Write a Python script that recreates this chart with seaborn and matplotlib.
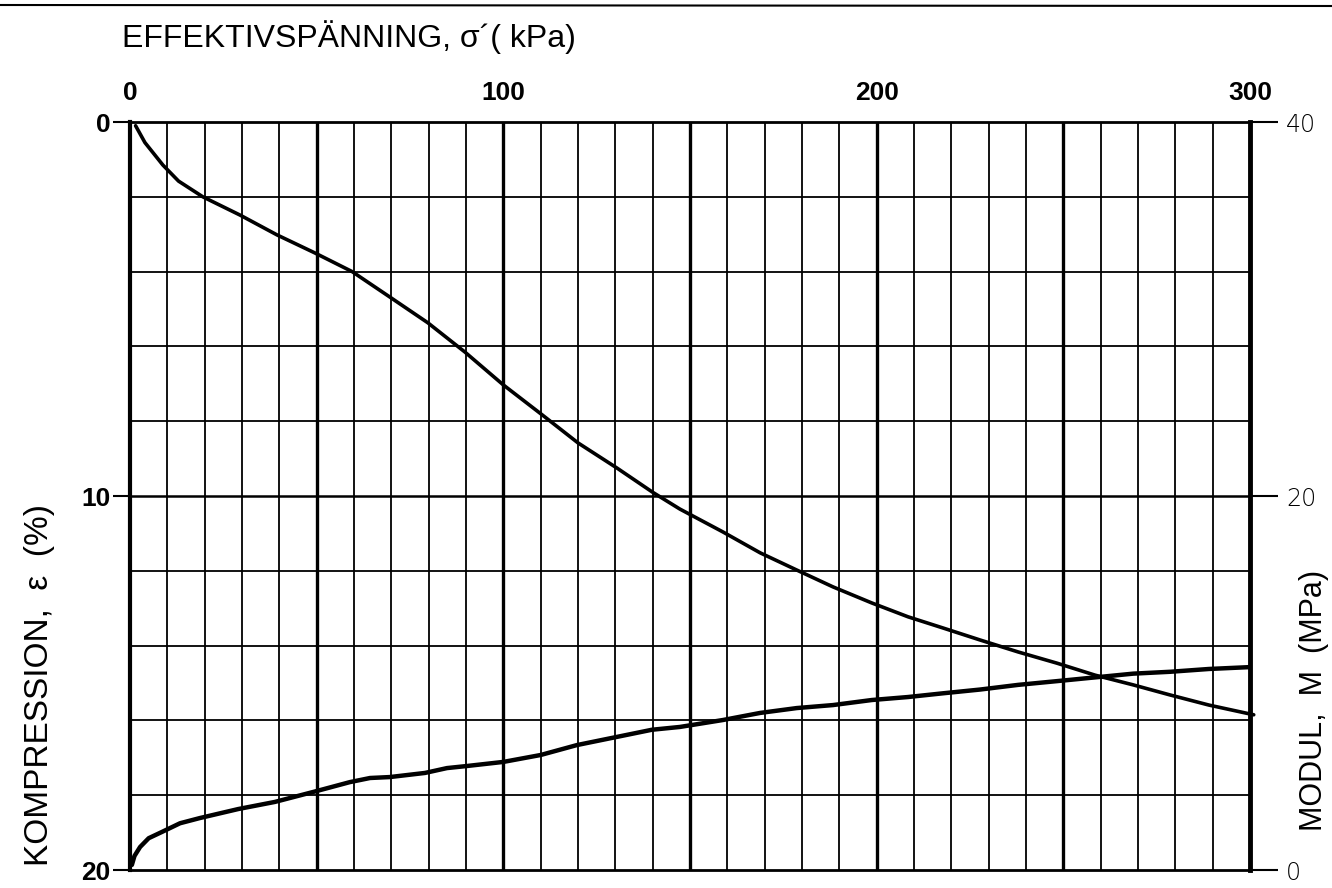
import matplotlib
matplotlib.use("Agg")
import matplotlib.pyplot as plt
from matplotlib.lines import Line2D
import seaborn as sns
import pandas as pd

# ---- data ----
stress_comp = [1.5, 4, 8.8, 13, 19.5, 29.5, 39.4, 49.5, 59.5, 69.6, 79.8, 89.7, 100, 110.4,
               120, 130.4, 140, 147.3, 158.8, 168.8, 178.6, 188.3, 198.7, 208.4, 217.8,
               227.7, 237.9, 248.3, 258.5, 268.7, 278.6, 289, 301]
compression = [0.1, 0.55, 1.15, 1.58, 2.0, 2.49, 3.02, 3.5, 4.0, 4.68, 5.37, 6.15, 7.03, 7.83,
               8.58, 9.25, 9.9, 10.35, 10.96, 11.52, 11.98, 12.43, 12.86, 13.23, 13.53,
               13.85, 14.17, 14.47, 14.79, 15.05, 15.32, 15.59, 15.85]

stress_mod = [0.5, 1.2, 2.7, 5, 8.5, 13.4, 18.75, 29, 38.8, 49, 58.9, 64.3, 69.6, 79, 84.9,
              90.2, 100, 110, 119.7, 130, 139.8, 147.3, 158.8, 168.8, 178.6, 188.3, 198.7,
              208.4, 217.8, 227.7, 237.9, 248.3, 258.5, 268.7, 278.6, 289, 300]
modulus = [0.27, 0.75, 1.23, 1.7, 2.03, 2.5, 2.78, 3.26, 3.64, 4.17, 4.7, 4.92, 4.97, 5.19,
           5.45, 5.56, 5.78, 6.15, 6.68, 7.1, 7.5, 7.65, 8.02, 8.4, 8.66, 8.82, 9.09, 9.25,
           9.45, 9.65, 9.9, 10.1, 10.3, 10.5, 10.6, 10.75, 10.85]

x_ticks = [0, 100, 200, 300]
left_ticks = [0, 10, 20]
right_ticks = [0, 20, 40]

title_text = "EFFEKTIVSPÄNNING, σ´( kPa)"
left_label = "KOMPRESSION,  ε  (%)"
right_label = "MODUL,  M  (MPa)"

df_c = pd.DataFrame({"stress": stress_comp, "eps": compression})
df_m = pd.DataFrame({"stress": stress_mod, "M": modulus})

sns.set_theme(style="white")
plt.rcParams['font.family'] = ['Liberation Sans Narrow', 'Liberation Sans', 'DejaVu Sans']
plt.rcParams['lines.solid_joinstyle'] = 'round'
plt.rcParams['lines.solid_capstyle'] = 'round'

W, H = 1332, 888
fig = plt.figure(figsize=(W / 100, H / 100), dpi=100)
fig.patch.set_facecolor("white")
ax = fig.add_axes([130 / W, 1 - 870 / H, 1120 / W, 748 / H])
ax.set_facecolor("white")

ax.set_xlim(0, 300)
ax.set_ylim(20, 0)

# grid
for xv in range(10, 300, 10):
    lw = 2.4 if xv % 50 == 0 else 1.3
    ax.axvline(xv, color="black", lw=lw, zorder=1)
for yv in range(2, 20, 2):
    lw = 1.8 if yv == 10 else 1.3
    ax.axhline(yv, color="black", lw=lw, zorder=1)

sns.lineplot(data=df_c, x="stress", y="eps", ax=ax, color="black", lw=2.6,
             sort=False, estimator=None, zorder=3, clip_on=False)

ax2 = ax.twinx()
ax2.set_ylim(0, 40)
sns.lineplot(data=df_m, x="stress", y="M", ax=ax2, color="black", lw=3.2,
             sort=False, estimator=None, zorder=3)

for a in (ax, ax2):
    for s in a.spines.values():
        s.set_visible(False)
ax.spines["left"].set_visible(True)
ax.spines["left"].set_color("black")
ax.spines["left"].set_linewidth(3)
ax.spines["top"].set_visible(True)
ax.spines["top"].set_color("black")
ax.spines["top"].set_linewidth(2)
ax.spines["bottom"].set_visible(True)
ax.spines["bottom"].set_color("black")
ax.spines["bottom"].set_linewidth(2)
ax2.spines["right"].set_visible(True)
ax2.spines["right"].set_color("black")
ax2.spines["right"].set_linewidth(3.5)

ax.xaxis.tick_top()
ax.set_xticks(x_ticks)
ax.set_xticklabels([str(v) for v in x_ticks], fontsize=19, fontweight="bold",
                   family=['Liberation Sans', 'DejaVu Sans'])
ax.tick_params(axis="x", length=0, pad=12, colors="black")
ax.set_yticks(left_ticks)
ax.set_yticklabels([str(v) for v in left_ticks], fontsize=19, fontweight="bold",
                   family=['Liberation Sans', 'DejaVu Sans'])
ax.tick_params(axis="y", length=12, width=1.5, pad=2, colors="black", left=True)
ax.set_xlabel("")
ax.set_ylabel("")

ax2.set_yticks(right_ticks)
ax2.set_yticklabels([str(v) for v in right_ticks], fontsize=17, fontweight="light",
                    family=['DejaVu Sans'])
ax2.tick_params(axis="y", length=20, width=1.5, pad=6, colors="black", right=True)
ax2.set_ylabel("")

fig.text(122 / W, 1 - 37 / H, title_text, fontsize=23, ha="left", va="center", color="black")
fig.text(40 / W, 1 - 685 / H, left_label, fontsize=24, rotation=90, ha="center",
         va="center", color="black")
fig.text(1314 / W, 1 - 700 / H, right_label, fontsize=22, rotation=90, ha="center",
         va="center", color="black")

# scanned page edge at the top
fig.add_artist(Line2D([0, 1], [1 - 5 / H, 1 - 6 / H], transform=fig.transFigure,
                      color="black", lw=1.5))

fig.savefig("out.png", dpi=100, facecolor="white")
